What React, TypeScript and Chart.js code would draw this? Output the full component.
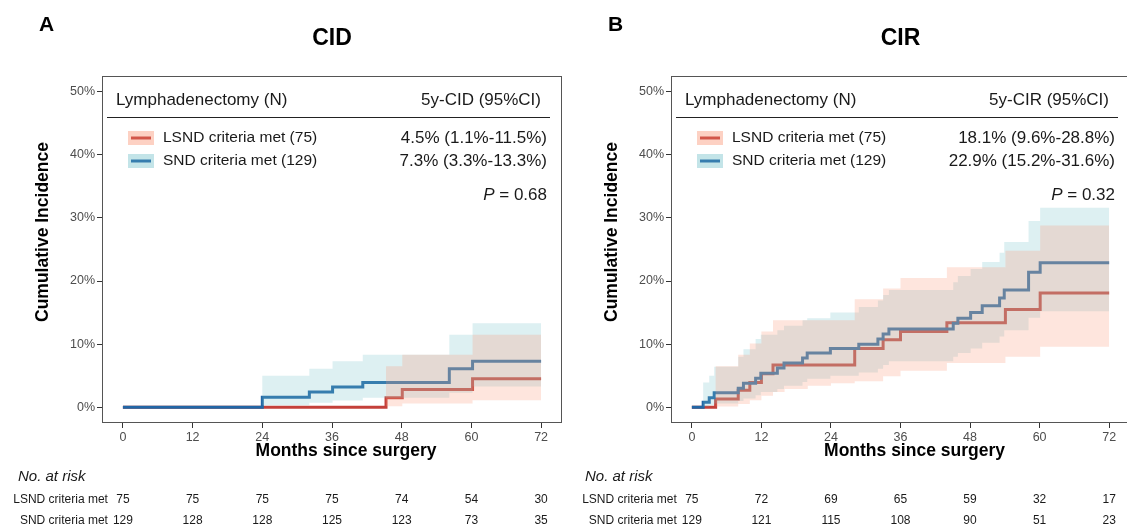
import React, { useEffect, useRef } from 'react';
import { Chart, registerables } from 'chart.js';

Chart.register(...registerables);

const FONT = '"Liberation Sans", Arial, Helvetica, sans-serif';

// ---------------- axis ticks ----------------
const monthTicks = [0, 12, 24, 36, 48, 60, 72];
const pctTicks = [0, 10, 20, 30, 40, 50];

// ---------------- texts ----------------
const panelLetters = ['A', 'B'];
const panelTitles = ['CID', 'CIR'];
const ciHeaders = ['5y-CID (95%CI)', '5y-CIR (95%CI)'];
const groupLabels = ['LSND criteria met (75)', 'SND criteria met (129)'];
const riskLabels = ['LSND criteria met', 'SND criteria met'];
const cidEstimates = ['4.5% (1.1%-11.5%)', '7.3% (3.3%-13.3%)'];
const cirEstimates = ['18.1% (9.6%-28.8%)', '22.9% (15.2%-31.6%)'];
const pValues = ['0.68', '0.32'];

// ---------------- Panel A: CID ----------------
const cidLsndTimes = [0, 45.3, 48.1, 60.2, 72];
const cidLsndInc = [0, 1.5, 2.8, 4.5, 4.5];
const cidLsndBandTimes = [0, 45.3, 48.1, 60.2, 72];
const cidLsndLower = [0, 0.15, 0.6, 1.1, 1.1];
const cidLsndUpper = [0, 6.5, 8.3, 11.5, 11.5];

const cidSndTimes = [0, 24.0, 32.1, 36.1, 41.3, 56.2, 60.2, 72];
const cidSndInc = [0, 1.6, 2.4, 3.2, 3.9, 6.1, 7.3, 7.3];
const cidSndBandTimes = [0, 24.0, 32.1, 36.1, 41.3, 56.2, 60.2, 72];
const cidSndLower = [0, 0.3, 0.7, 1.05, 1.5, 2.3, 3.3, 3.3];
const cidSndUpper = [0, 5.0, 6.1, 7.3, 8.3, 11.5, 13.3, 13.3];

const cidRiskLsnd = [75, 75, 75, 75, 74, 54, 30];
const cidRiskSnd = [129, 128, 128, 125, 123, 73, 35];

// ---------------- Panel B: CIR ----------------
const cirLsndTimes = [0, 4.1, 8.0, 10.0, 12.0, 14.0, 28.1, 33.0, 36.0, 44.0, 54.1, 60.1, 72];
const cirLsndInc = [0, 1.3, 2.7, 3.9, 5.3, 6.7, 9.3, 10.7, 12.0, 13.4, 15.5, 18.1, 18.1];
const cirLsndBandTimes = [0, 4.1, 8.0, 10.0, 12.0, 14.0, 16.0, 20.0, 24.0, 28.1, 33.0, 36.0, 44.0, 54.1, 60.1, 72];
const cirLsndLower = [0, 0.1, 0.5, 1.1, 1.8, 2.4, 2.9, 3.4, 3.8, 4.1, 4.9, 5.8, 7.0, 8.0, 9.6, 9.6];
const cirLsndUpper = [0, 6.5, 8.3, 10.1, 12.0, 13.8, 13.8, 13.8, 13.8, 17.1, 18.8, 20.5, 22.2, 24.8, 28.8, 28.8];

const cirSndTimes = [0, 1.95, 3.0, 3.85, 8.0, 8.9, 11.0, 11.9, 14.75, 15.9, 19.1, 19.9, 23.9, 28.8, 32.1, 33.0, 34.0, 45.1, 45.9, 48.1, 50.1, 53.1, 53.9, 58.1, 60.1, 72];
const cirSndInc = [0, 0.8, 1.5, 2.3, 3.0, 3.8, 4.6, 5.4, 6.2, 7.0, 7.8, 8.6, 9.3, 10.0, 10.8, 11.6, 12.4, 13.3, 14.1, 15.0, 16.1, 17.3, 18.6, 21.4, 22.9, 22.9];
const cirSndBandTimes = cirSndTimes;
const cirSndLower = [0, 0.1, 0.3, 0.6, 1.0, 1.4, 1.9, 2.4, 2.9, 3.4, 4.0, 4.5, 5.0, 5.5, 6.1, 6.7, 7.3, 8.0, 8.6, 9.3, 10.2, 11.2, 12.2, 14.2, 15.2, 15.2];
const cirSndUpper = [0, 3.9, 5.0, 6.4, 8.0, 9.2, 10.8, 11.5, 12.2, 12.9, 13.8, 14.1, 15.0, 15.9, 16.9, 17.8, 18.6, 19.8, 20.8, 21.9, 23.0, 24.5, 26.2, 29.5, 31.6, 31.6];

const cirRiskLsnd = [75, 72, 69, 65, 59, 32, 17];
const cirRiskSnd = [129, 121, 115, 108, 90, 51, 23];

// ---------------- styles ----------------
const RED = '#C4403A';
const BLUE = '#2166A5';
const RED_BAND = 'rgba(250,150,120,0.25)';
const BLUE_BAND = 'rgba(119,195,203,0.25)';

type PanelDef = {
  idx: number;
  canvasWidth: number;
  yAxisWidth: number;
  padRight: number;
  lsndTimes: number[]; lsndInc: number[]; lsndBandTimes: number[]; lsndLower: number[]; lsndUpper: number[];
  sndTimes: number[]; sndInc: number[]; sndBandTimes: number[]; sndLower: number[]; sndUpper: number[];
  estimates: string[];
  riskLsnd: number[]; riskSnd: number[];
  noRiskX: number;
};

const panels: PanelDef[] = [
  {
    idx: 0, canvasWidth: 563, yAxisWidth: 102, padRight: 1,
    lsndTimes: cidLsndTimes, lsndInc: cidLsndInc, lsndBandTimes: cidLsndBandTimes, lsndLower: cidLsndLower, lsndUpper: cidLsndUpper,
    sndTimes: cidSndTimes, sndInc: cidSndInc, sndBandTimes: cidSndBandTimes, sndLower: cidSndLower, sndUpper: cidSndUpper,
    estimates: cidEstimates, riskLsnd: cidRiskLsnd, riskSnd: cidRiskSnd, noRiskX: 18,
  },
  {
    idx: 1, canvasWidth: 570, yAxisWidth: 108, padRight: 3,
    lsndTimes: cirLsndTimes, lsndInc: cirLsndInc, lsndBandTimes: cirLsndBandTimes, lsndLower: cirLsndLower, lsndUpper: cirLsndUpper,
    sndTimes: cirSndTimes, sndInc: cirSndInc, sndBandTimes: cirSndBandTimes, sndLower: cirSndLower, sndUpper: cirSndUpper,
    estimates: cirEstimates, riskLsnd: cirRiskLsnd, riskSnd: cirRiskSnd, noRiskX: 22,
  },
];

function pts(times: number[], values: number[]) {
  return times.map((t, i) => ({ x: t, y: values[i] }));
}

function text(ctx: CanvasRenderingContext2D, s: string, x: number, y: number, font: string, color: string, align: CanvasTextAlign = 'left') {
  ctx.font = font;
  ctx.fillStyle = color;
  ctx.textAlign = align;
  ctx.textBaseline = 'middle';
  ctx.fillText(s, x, y);
}

function makePlugin(p: PanelDef) {
  return {
    id: 'decor' + p.idx,
    afterDraw(chart: any) {
      const ctx: CanvasRenderingContext2D = chart.ctx;
      const a = chart.chartArea;
      const xs = chart.scales.x;
      ctx.save();
      // panel border
      ctx.strokeStyle = '#555';
      ctx.lineWidth = 1;
      ctx.strokeRect(a.left + 0.5, a.top + 0.5, a.right - a.left - 1, a.bottom - a.top - 1);

      const cx = (a.left + a.right) / 2;
      // panel letter + title
      text(ctx, panelLetters[p.idx], a.left - 63, 25, `bold 21px ${FONT}`, '#000');
      text(ctx, panelTitles[p.idx], cx, 39, `bold 23px ${FONT}`, '#000', 'center');

      // legend header
      const hdrFont = `17px ${FONT}`;
      text(ctx, 'Lymphadenectomy (N)', a.left + 14, 100, hdrFont, '#1a1a1a');
      text(ctx, ciHeaders[p.idx], a.right - 21, 100, hdrFont, '#1a1a1a', 'right');
      ctx.strokeStyle = '#222';
      ctx.lineWidth = 1.2;
      ctx.beginPath();
      ctx.moveTo(a.left + 5, 117.5);
      ctx.lineTo(a.right - 12, 117.5);
      ctx.stroke();

      const rowsY = [138, 161];
      const lineCols = [RED, BLUE];
      const bandCols = [RED_BAND, BLUE_BAND];
      for (let i = 0; i < 2; i++) {
        const y = rowsY[i];
        const sx = a.left + 26;
        ctx.fillStyle = bandCols[i];
        ctx.fillRect(sx, y - 7, 26, 14);
        ctx.strokeStyle = lineCols[i];
        ctx.lineWidth = 3;
        ctx.beginPath();
        ctx.moveTo(sx + 3, y);
        ctx.lineTo(sx + 23, y);
        ctx.stroke();
        ctx.fillStyle = bandCols[i];
        ctx.fillRect(sx, y - 7, 26, 14);
        text(ctx, groupLabels[i], a.left + 61, y, `15.5px ${FONT}`, '#1a1a1a');
        text(ctx, p.estimates[i], a.right - 15, y, `17px ${FONT}`, '#1a1a1a', 'right');
      }
      // P value
      ctx.font = `17px ${FONT}`;
      const rest = ' = ' + pValues[p.idx];
      const wRest = ctx.measureText(rest).width;
      const rx = a.right - 15;
      text(ctx, rest, rx, 195, `17px ${FONT}`, '#1a1a1a', 'right');
      text(ctx, 'P', rx - wRest, 195, `italic 17px ${FONT}`, '#1a1a1a', 'right');

      // axis titles
      ctx.save();
      ctx.translate(a.left - 59, 232);
      ctx.rotate(-Math.PI / 2);
      text(ctx, 'Cumulative Incidence', 0, 0, `bold 17.5px ${FONT}`, '#000', 'center');
      ctx.restore();
      text(ctx, 'Months since surgery', cx + 14, 451, `bold 17.5px ${FONT}`, '#000', 'center');

      // risk table
      text(ctx, 'No. at risk', p.noRiskX, 477, `italic 15px ${FONT}`, '#1a1a1a');
      const x0 = xs.getPixelForValue(0);
      const risk = [p.riskLsnd, p.riskSnd];
      const ry = [500, 521];
      for (let r = 0; r < 2; r++) {
        text(ctx, riskLabels[r], x0 - 15, ry[r], `12px ${FONT}`, '#1a1a1a', 'right');
        monthTicks.forEach((t, k) => {
          text(ctx, String(risk[r][k]), xs.getPixelForValue(t), ry[r], `12px ${FONT}`, '#1a1a1a', 'center');
        });
      }
      ctx.restore();
    },
  };
}

function buildChart(canvas: HTMLCanvasElement, p: PanelDef) {
  const band = (times: number[], vals: number[], fill: any, color: string) => ({
    data: pts(times, vals),
    stepped: 'before',
    borderWidth: 0,
    borderColor: 'rgba(0,0,0,0)',
    pointRadius: 0,
    fill,
    backgroundColor: color,
    order: 0,
  });
  const line = (times: number[], vals: number[], color: string, order: number) => ({
    data: pts(times, vals),
    stepped: 'before',
    borderWidth: 3,
    borderColor: color,
    borderCapStyle: 'butt',
    borderJoinStyle: 'miter',
    pointRadius: 0,
    fill: false,
    order,
  });
  const gridOpts = { drawOnChartArea: false, drawTicks: true, tickLength: 5, tickColor: '#333', tickWidth: 1 };
  const tickFont = { family: FONT, size: 12.5 };
  return new Chart(canvas, {
    type: 'line',
    data: {
      datasets: [
        band(p.lsndBandTimes, p.lsndLower, false, RED_BAND),
        band(p.lsndBandTimes, p.lsndUpper, '-1', RED_BAND),
        band(p.sndBandTimes, p.sndLower, false, BLUE_BAND),
        band(p.sndBandTimes, p.sndUpper, '-1', BLUE_BAND),
        line(p.lsndTimes, p.lsndInc, RED, 2),
        line(p.sndTimes, p.sndInc, BLUE, 1),
      ] as any,
    },
    options: {
      responsive: false,
      animation: false,
      events: [],
      layout: { padding: { left: 0, top: 76, right: p.padRight, bottom: 0 } },
      plugins: { legend: { display: false }, tooltip: { enabled: false }, title: { display: false } },
      scales: {
        x: {
          type: 'linear',
          min: -3.6,
          max: 75.6,
          afterBuildTicks: (s: any) => { s.ticks = monthTicks.map((v) => ({ value: v })); },
          afterFit: (s: any) => { s.height = 106; },
          grid: gridOpts,
          border: { display: false },
          ticks: { font: tickFont, color: '#4d4d4d', padding: 2, maxRotation: 0, autoSkip: false, callback: (v: any) => String(v) },
        },
        y: {
          type: 'linear',
          min: -2.5,
          max: 52.5,
          afterBuildTicks: (s: any) => { s.ticks = pctTicks.map((v) => ({ value: v })); },
          afterFit: (s: any) => { s.width = p.yAxisWidth; },
          grid: gridOpts,
          border: { display: false },
          ticks: { font: tickFont, color: '#4d4d4d', padding: 2, autoSkip: false, callback: (v: any) => v + '%' },
        },
      },
    } as any,
    plugins: [makePlugin(p)],
  });
}

export default function App() {
  const refA = useRef<HTMLCanvasElement>(null);
  const refB = useRef<HTMLCanvasElement>(null);
  useEffect(() => {
    const charts: Chart[] = [];
    if (refA.current) charts.push(buildChart(refA.current, panels[0]));
    if (refB.current) charts.push(buildChart(refB.current, panels[1]));
    return () => charts.forEach((c) => c.destroy());
  }, []);
  return (
    <div style={{ position: 'fixed', left: 0, top: 0, width: 1127, height: 529, overflow: 'hidden', background: '#fff' }}>
      <canvas ref={refA} width={563} height={529} style={{ position: 'absolute', left: 0, top: 0, display: 'block' }} />
      <canvas ref={refB} width={570} height={529} style={{ position: 'absolute', left: 563, top: 0, display: 'block' }} />
    </div>
  );
}
